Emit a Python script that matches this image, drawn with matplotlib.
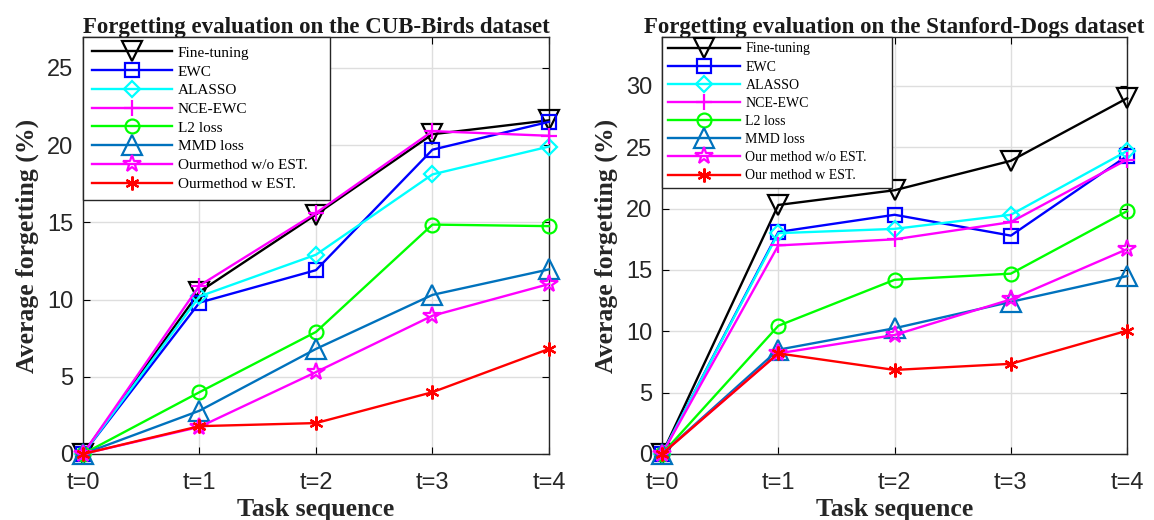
import numpy as np
import matplotlib
matplotlib.use("Agg")
import matplotlib.pyplot as plt

# task index
tasks = ["t=0", "t=1", "t=2", "t=3", "t=4"]

methods = ["Fine-tuning", "EWC", "ALASSO", "NCE-EWC", "L2 loss", "MMD loss",
           "Our method w/o EST.", "Our method w EST."]
colors = ["black", "#0000FF", "#00FFFF", "#FF00FF", "#00FF00", "#0072BD",
          "#FF00FF", "#FF0000"]
markers = ["v", "s", "D", "+", "o", "^", "*", (6, 2, 0)]
msizes = [14, 9.5, 8, 11, 10, 14, 13, 10]

# CUB-Birds
cub_finetune = [0, 10.5, 15.5, 20.7, 21.6]
cub_ewc = [0, 9.8, 11.9, 19.7, 21.5]
cub_alasso = [0, 10.2, 12.9, 18.1, 19.9]
cub_nce_ewc = [0, 10.9, 15.6, 20.9, 20.6]
cub_l2 = [0, 4.0, 7.9, 14.85, 14.75]
cub_mmd = [0, 2.8, 6.8, 10.3, 11.95]
cub_ours_wo = [0, 1.75, 5.3, 8.95, 11.0]
cub_ours_w = [0, 1.8, 2.0, 4.0, 6.8]

# Stanford-Dogs
dog_finetune = [0, 20.3, 21.5, 23.9, 29.0]
dog_ewc = [0, 18.1, 19.5, 17.8, 24.3]
dog_alasso = [0, 18.0, 18.35, 19.5, 24.7]
dog_nce_ewc = [0, 17.0, 17.5, 18.9, 24.0]
dog_l2 = [0, 10.45, 14.2, 14.7, 19.8]
dog_mmd = [0, 8.5, 10.25, 12.4, 14.5]
dog_ours_wo = [0, 8.2, 9.7, 12.6, 16.7]
dog_ours_w = [0, 8.2, 6.85, 7.35, 10.05]

cub = [cub_finetune, cub_ewc, cub_alasso, cub_nce_ewc, cub_l2, cub_mmd,
       cub_ours_wo, cub_ours_w]
dog = [dog_finetune, dog_ewc, dog_alasso, dog_nce_ewc, dog_l2, dog_mmd,
       dog_ours_wo, dog_ours_w]

cub_labels = methods[:6] + ["Ourmethod w/o EST.", "Ourmethod w EST."]
dog_labels = methods

serif = ["Liberation Serif", "DejaVu Serif"]
sans = ["Liberation Sans", "DejaVu Sans"]

fig = plt.figure(figsize=(11.54, 5.2), dpi=100)
ax1 = fig.add_axes([0.0719, 0.127, 0.4038, 0.802])
ax2 = fig.add_axes([0.5737, 0.127, 0.403, 0.802])


def draw(ax, data, labels, ymax, yticks, title, legsize, legw, legsp, legpad):
    x = np.arange(len(tasks))
    for vals, lab, c, m, ms in zip(data, labels, colors, markers, msizes):
        ax.plot(x, vals, color=c, marker=m, markersize=ms, linewidth=1.7,
                markerfacecolor="none", markeredgecolor=c, markeredgewidth=1.6,
                label=lab, clip_on=False, zorder=3)
    ax.set_xlim(0, 4)
    ax.set_ylim(0, ymax)
    ax.set_xticks(x)
    ax.set_xticklabels(tasks)
    ax.set_yticks(yticks)
    ax.grid(True, color="#DEDEDE", linewidth=1)
    ax.set_axisbelow(True)
    ax.tick_params(direction="in", length=5, top=True, right=True,
                   labelsize=17)
    ax.tick_params(axis="x", pad=13)
    ax.tick_params(axis="y", pad=7)
    for t in ax.get_xticklabels() + ax.get_yticklabels():
        t.set_family(sans)
        t.set_color("#262626")
    for s in ax.spines.values():
        s.set_color("#262626")
        s.set_linewidth(1)
    ax.set_title(title, family=serif, weight="bold", fontsize=16.5, pad=3,
                 color="#1a1a1a")
    ax.set_xlabel("Task sequence", family=serif, weight="bold", fontsize=18.5,
                  labelpad=3, color="#262626")
    ax.set_ylabel("Average forgetting (%)", family=serif, weight="bold",
                  fontsize=18.5, labelpad=6, color="#262626")
    leg = ax.legend(loc="upper left", bbox_to_anchor=(0, 1, legw, 0),
                    mode="expand", prop={"family": serif, "size": legsize},
                    borderaxespad=0, fancybox=False, edgecolor="#262626",
                    handlelength=5.2, labelspacing=legsp, borderpad=legpad,
                    handletextpad=0.4, framealpha=1)
    leg.get_frame().set_linewidth(1)


draw(ax1, cub, cub_labels, 27, [0, 5, 10, 15, 20, 25],
     "Forgetting evaluation on the CUB-Birds dataset", 11, 0.53, 0.33, 0.6)
draw(ax2, dog, dog_labels, 34, [0, 5, 10, 15, 20, 25, 30],
     "Forgetting evaluation on the Stanford-Dogs dataset", 10, 0.495, 0.37,
     0.4)

fig.savefig("out.png", dpi=100)
